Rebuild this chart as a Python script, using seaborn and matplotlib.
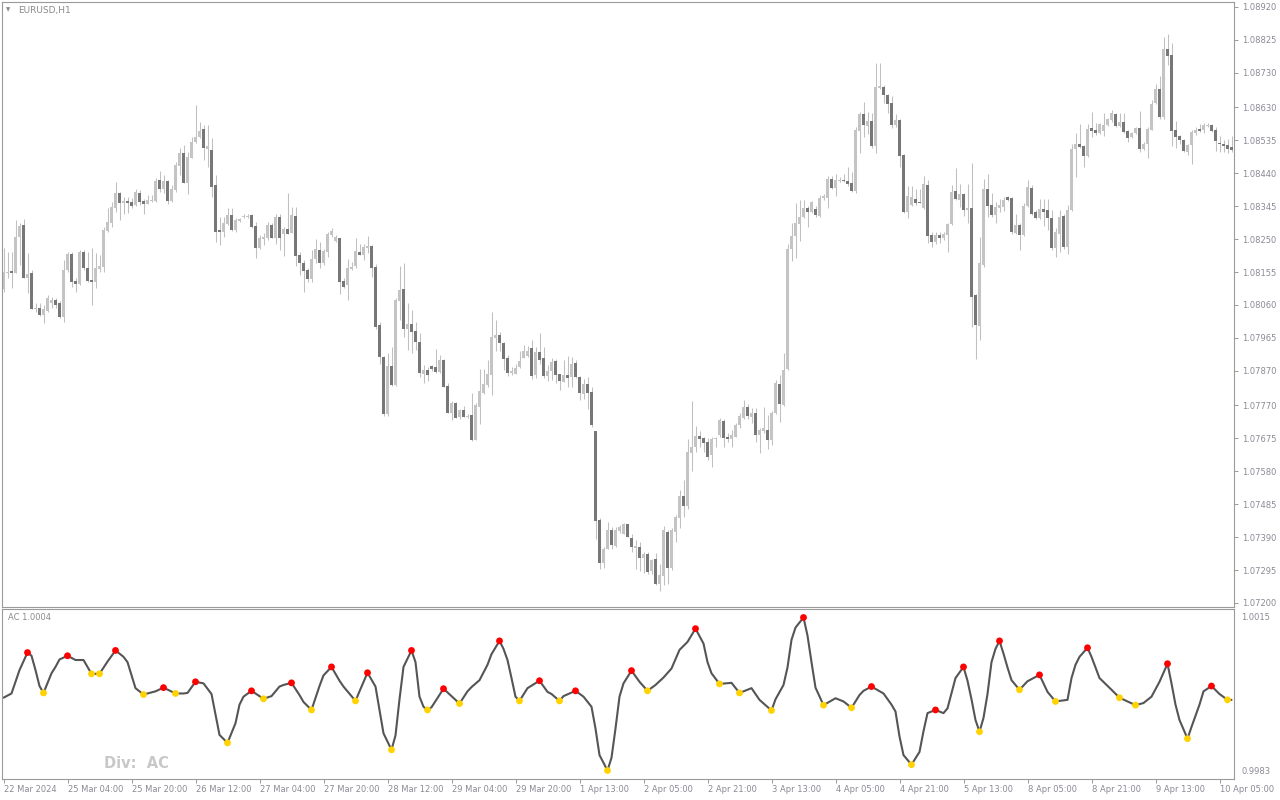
import numpy as np
import pandas as pd
import seaborn as sns
import matplotlib
matplotlib.use("Agg")
import matplotlib.pyplot as plt

sns.set_theme(style="white")
plt.rcParams['font.family'] = ['DejaVu Sans']

# ---------------- data: EURUSD H1 candles ----------------
opens = [
1.08105,1.08153,1.08158,1.08153,1.08257,1.08291,1.08139,1.08152,1.08049,1.08052,
1.08031,1.08043,1.08065,1.08075,1.08066,1.08026,1.08161,1.08207,1.08129,1.08121,
1.08214,1.08167,1.08132,1.08127,1.08165,1.08171,1.08274,1.08298,1.08339,1.08383,
1.08355,1.08360,1.08358,1.08349,1.08384,1.08361,1.08352,1.08361,1.08360,1.08421,
1.08395,1.08418,1.08360,1.08392,1.08462,1.08498,1.08413,1.08485,1.08529,1.08544,
1.08568,1.08510,1.08507,1.08406,1.08276,1.08272,1.08294,1.08320,1.08276,1.08302,
1.08314,1.08315,1.08320,1.08288,1.08225,1.08250,1.08252,1.08291,1.08252,1.08314,
1.08266,1.08279,1.08268,1.08318,1.08204,1.08182,1.08161,1.08134,1.08194,1.08220,
1.08182,1.08214,1.08262,1.08245,1.08252,1.08129,1.08117,1.08164,1.08172,1.08213,
1.08204,1.08225,1.08230,1.08169,1.08001,1.07911,1.07745,1.07885,1.07829,1.08072,
1.08106,1.07990,1.08005,1.07985,1.07954,1.07861,1.07872,1.07884,1.07881,1.07867,
1.07901,1.07826,1.07749,1.07777,1.07736,1.07757,1.07737,1.07742,1.07670,1.07766,
1.07807,1.07829,1.07858,1.07966,1.07973,1.07949,1.07908,1.07864,1.07862,1.07882,
1.07908,1.07913,1.07937,1.07859,1.07925,1.07908,1.07856,1.07870,1.07898,1.07860,
1.07839,1.07859,1.07853,1.07893,1.07853,1.07803,1.07832,1.07809,1.07696,1.07439,
1.07316,1.07356,1.07410,1.07364,1.07408,1.07400,1.07427,1.07388,1.07360,1.07362,
1.07330,1.07342,1.07292,1.07326,1.07254,1.07278,1.07405,1.07301,1.07405,1.07444,
1.07508,1.07479,1.07633,1.07651,1.07681,1.07676,1.07664,1.07627,1.07672,1.07685,
1.07725,1.07680,1.07674,1.07680,1.07715,1.07734,1.07767,1.07737,1.07749,1.07685,
1.07695,1.07700,1.07670,1.07749,1.07832,1.07772,1.07876,1.08221,1.08260,1.08295,
1.08313,1.08340,1.08327,1.08338,1.08318,1.08369,1.08369,1.08424,1.08399,1.08419,
1.08421,1.08417,1.08412,1.08389,1.08563,1.08610,1.08576,1.08591,1.08518,1.08687,
1.08689,1.08665,1.08642,1.08578,1.08595,1.08493,1.08327,1.08349,1.08366,1.08357,
1.08341,1.08406,1.08261,1.08242,1.08261,1.08254,1.08261,1.08295,1.08390,1.08364,
1.08380,1.08334,1.08341,1.08088,1.07999,1.08175,1.08394,1.08348,1.08319,1.08340,
1.08343,1.08372,1.08369,1.08268,1.08290,1.08261,1.08345,1.08398,1.08329,1.08312,
1.08338,1.08334,1.08312,1.08225,1.08266,1.08316,1.08228,1.08334,1.08509,1.08524,
1.08518,1.08489,1.08571,1.08564,1.08557,1.08562,1.08579,1.08595,1.08611,1.08577,
1.08587,1.08562,1.08545,1.08557,1.08570,1.08511,1.08524,1.08566,1.08643,1.08683,
1.08603,1.08798,1.08781,1.08564,1.08547,1.08536,1.08502,1.08521,1.08555,1.08567,
1.08566,1.08577,1.08579,1.08564,1.08528,1.08526,1.08523,1.08516]

highs = [
1.08224,1.08214,1.08214,1.08305,1.08296,1.08308,1.08209,1.08161,1.08065,1.08065,
1.08060,1.08089,1.08084,1.08079,1.08072,1.08190,1.08214,1.08214,1.08137,1.08219,
1.08219,1.08214,1.08224,1.08209,1.08204,1.08286,1.08339,1.08358,1.08414,1.08387,
1.08373,1.08373,1.08368,1.08394,1.08392,1.08366,1.08377,1.08377,1.08426,1.08447,
1.08435,1.08421,1.08406,1.08474,1.08512,1.08522,1.08502,1.08546,1.08637,1.08589,
1.08579,1.08579,1.08543,1.08435,1.08315,1.08315,1.08339,1.08339,1.08310,1.08312,
1.08324,1.08324,1.08322,1.08300,1.08262,1.08267,1.08299,1.08296,1.08324,1.08324,
1.08286,1.08382,1.08344,1.08344,1.08214,1.08190,1.08166,1.08218,1.08249,1.08242,
1.08223,1.08271,1.08281,1.08262,1.08252,1.08139,1.08192,1.08185,1.08252,1.08236,
1.08236,1.08259,1.08233,1.08177,1.08012,1.07913,1.07920,1.07939,1.08079,1.08172,
1.08180,1.08065,1.08045,1.08010,1.07978,1.07886,1.07882,1.07886,1.07932,1.07915,
1.07903,1.07834,1.07784,1.07781,1.07761,1.07768,1.07744,1.07807,1.07778,1.07876,
1.07876,1.07901,1.08040,1.08018,1.07982,1.07954,1.07917,1.07882,1.07889,1.07928,
1.07944,1.07941,1.07959,1.07939,1.07980,1.07939,1.07887,1.07907,1.07903,1.07862,
1.07901,1.07912,1.07911,1.07901,1.07855,1.07847,1.07853,1.07824,1.07696,1.07446,
1.07362,1.07434,1.07420,1.07420,1.07425,1.07431,1.07429,1.07399,1.07381,1.07375,
1.07348,1.07348,1.07328,1.07343,1.07312,1.07423,1.07410,1.07415,1.07453,1.07526,
1.07554,1.07672,1.07782,1.07710,1.07697,1.07679,1.07675,1.07678,1.07679,1.07734,
1.07731,1.07690,1.07700,1.07720,1.07749,1.07787,1.07774,1.07764,1.07764,1.07705,
1.07767,1.07742,1.07754,1.07844,1.07858,1.07920,1.08235,1.08297,1.08354,1.08364,
1.08364,1.08345,1.08359,1.08345,1.08376,1.08379,1.08432,1.08432,1.08439,1.08429,
1.08439,1.08459,1.08444,1.08573,1.08617,1.08647,1.08617,1.08614,1.08759,1.08759,
1.08694,1.08670,1.08662,1.08612,1.08598,1.08496,1.08404,1.08404,1.08394,1.08394,
1.08432,1.08422,1.08271,1.08271,1.08271,1.08271,1.08297,1.08406,1.08454,1.08410,
1.08384,1.08409,1.08471,1.08093,1.08257,1.08425,1.08437,1.08382,1.08358,1.08367,
1.08372,1.08375,1.08372,1.08322,1.08297,1.08355,1.08422,1.08406,1.08334,1.08367,
1.08367,1.08367,1.08335,1.08281,1.08334,1.08324,1.08348,1.08526,1.08555,1.08582,
1.08521,1.08582,1.08617,1.08584,1.08584,1.08614,1.08600,1.08624,1.08614,1.08613,
1.08613,1.08566,1.08560,1.08574,1.08620,1.08531,1.08574,1.08651,1.08697,1.08720,
1.08832,1.08841,1.08815,1.08591,1.08550,1.08540,1.08526,1.08564,1.08574,1.08582,
1.08584,1.08584,1.08581,1.08574,1.08547,1.08536,1.08540,1.08547]

lows = [
1.08098,1.08137,1.08108,1.08151,1.08175,1.08137,1.08094,1.08047,1.08041,1.08029,
1.08007,1.08041,1.08050,1.08050,1.08022,1.08012,1.08156,1.08113,1.08098,1.08118,
1.08161,1.08127,1.08060,1.08108,1.08156,1.08156,1.08272,1.08286,1.08329,1.08305,
1.08322,1.08325,1.08339,1.08347,1.08349,1.08322,1.08350,1.08358,1.08356,1.08387,
1.08382,1.08350,1.08358,1.08387,1.08435,1.08411,1.08379,1.08483,1.08527,1.08541,
1.08478,1.08459,1.08373,1.08243,1.08233,1.08257,1.08291,1.08274,1.08272,1.08300,
1.08310,1.08310,1.08283,1.08195,1.08223,1.08233,1.08248,1.08252,1.08235,1.08219,
1.08202,1.08264,1.08267,1.08173,1.08147,1.08098,1.08127,1.08127,1.08180,1.08166,
1.08175,1.08199,1.08257,1.08242,1.08093,1.08108,1.08074,1.08161,1.08166,1.08203,
1.08191,1.08211,1.08142,1.07992,1.07891,1.07739,1.07741,1.07827,1.07826,1.08016,
1.07968,1.07930,1.07920,1.07930,1.07851,1.07836,1.07841,1.07870,1.07864,1.07864,
1.07822,1.07747,1.07728,1.07733,1.07732,1.07736,1.07735,1.07668,1.07670,1.07716,
1.07803,1.07822,1.07800,1.07928,1.07928,1.07872,1.07855,1.07858,1.07861,1.07877,
1.07906,1.07911,1.07846,1.07848,1.07891,1.07848,1.07841,1.07843,1.07834,1.07814,
1.07837,1.07822,1.07822,1.07848,1.07786,1.07790,1.07759,1.07707,1.07386,1.07298,
1.07300,1.07355,1.07357,1.07362,1.07402,1.07398,1.07389,1.07347,1.07299,1.07293,
1.07287,1.07285,1.07283,1.07251,1.07235,1.07251,1.07254,1.07295,1.07376,1.07415,
1.07447,1.07471,1.07581,1.07636,1.07651,1.07636,1.07614,1.07593,1.07651,1.07680,
1.07650,1.07665,1.07650,1.07678,1.07705,1.07730,1.07730,1.07720,1.07665,1.07632,
1.07690,1.07645,1.07655,1.07744,1.07722,1.07769,1.07873,1.08186,1.08196,1.08245,
1.08310,1.08285,1.08325,1.08315,1.08315,1.08364,1.08340,1.08394,1.08374,1.08414,
1.08414,1.08404,1.08386,1.08384,1.08498,1.08545,1.08553,1.08513,1.08498,1.08682,
1.08642,1.08614,1.08571,1.08573,1.08459,1.08325,1.08310,1.08345,1.08349,1.08353,
1.08338,1.08239,1.08226,1.08237,1.08239,1.08247,1.08213,1.08290,1.08362,1.08343,
1.08317,1.08297,1.07997,1.07903,1.07958,1.08170,1.08314,1.08314,1.08297,1.08329,
1.08332,1.08360,1.08264,1.08266,1.08218,1.08258,1.08343,1.08319,1.08307,1.08309,
1.08287,1.08276,1.08218,1.08199,1.08213,1.08223,1.08208,1.08332,1.08430,1.08514,
1.08457,1.08487,1.08545,1.08550,1.08553,1.08547,1.08576,1.08588,1.08574,1.08574,
1.08557,1.08531,1.08543,1.08553,1.08502,1.08507,1.08483,1.08564,1.08641,1.08598,
1.08598,1.08752,1.08518,1.08512,1.08526,1.08502,1.08492,1.08468,1.08550,1.08560,
1.08557,1.08574,1.08560,1.08505,1.08502,1.08502,1.08499,1.08502]

closes = [
1.08156,1.08155,1.08153,1.08257,1.08289,1.08139,1.08149,1.08049,1.08052,1.08031,
1.08048,1.08079,1.08075,1.08060,1.08026,1.08161,1.08208,1.08127,1.08121,1.08214,
1.08166,1.08129,1.08127,1.08167,1.08173,1.08276,1.08300,1.08344,1.08383,1.08355,
1.08360,1.08355,1.08346,1.08386,1.08358,1.08352,1.08363,1.08363,1.08419,1.08395,
1.08418,1.08360,1.08395,1.08464,1.08498,1.08413,1.08487,1.08530,1.08546,1.08563,
1.08512,1.08519,1.08401,1.08272,1.08272,1.08298,1.08320,1.08276,1.08305,1.08308,
1.08316,1.08318,1.08286,1.08225,1.08252,1.08256,1.08291,1.08254,1.08314,1.08252,
1.08279,1.08266,1.08320,1.08200,1.08180,1.08159,1.08135,1.08194,1.08223,1.08182,
1.08216,1.08265,1.08273,1.08257,1.08127,1.08113,1.08166,1.08170,1.08216,1.08204,
1.08226,1.08230,1.08167,1.07997,1.07911,1.07745,1.07885,1.07829,1.08074,1.08103,
1.07990,1.08005,1.07983,1.07954,1.07864,1.07872,1.07859,1.07875,1.07867,1.07901,
1.07824,1.07749,1.07778,1.07735,1.07757,1.07737,1.07741,1.07670,1.07771,1.07812,
1.07832,1.07861,1.07968,1.07973,1.07949,1.07904,1.07864,1.07870,1.07879,1.07899,
1.07928,1.07928,1.07856,1.07925,1.07901,1.07856,1.07870,1.07896,1.07858,1.07841,
1.07859,1.07850,1.07889,1.07851,1.07805,1.07832,1.07807,1.07714,1.07437,1.07316,
1.07356,1.07410,1.07367,1.07410,1.07420,1.07427,1.07391,1.07362,1.07365,1.07330,
1.07342,1.07288,1.07324,1.07254,1.07280,1.07410,1.07301,1.07410,1.07447,1.07508,
1.07479,1.07635,1.07651,1.07681,1.07674,1.07662,1.07622,1.07673,1.07677,1.07727,
1.07677,1.07674,1.07685,1.07715,1.07739,1.07767,1.07739,1.07747,1.07685,1.07700,
1.07705,1.07670,1.07749,1.07834,1.07774,1.07873,1.08222,1.08260,1.08297,1.08315,
1.08340,1.08327,1.08356,1.08320,1.08369,1.08374,1.08424,1.08399,1.08421,1.08421,
1.08417,1.08409,1.08389,1.08565,1.08610,1.08578,1.08591,1.08518,1.08689,1.08692,
1.08667,1.08639,1.08578,1.08595,1.08491,1.08327,1.08374,1.08372,1.08354,1.08355,
1.08409,1.08259,1.08242,1.08261,1.08254,1.08264,1.08295,1.08385,1.08367,1.08380,
1.08334,1.08341,1.08083,1.08002,1.08180,1.08394,1.08346,1.08319,1.08343,1.08348,
1.08362,1.08362,1.08271,1.08290,1.08261,1.08345,1.08401,1.08322,1.08311,1.08336,
1.08329,1.08311,1.08225,1.08270,1.08314,1.08228,1.08334,1.08510,1.08524,1.08516,
1.08489,1.08569,1.08562,1.08557,1.08582,1.08579,1.08598,1.08614,1.08577,1.08587,
1.08560,1.08543,1.08557,1.08570,1.08511,1.08524,1.08567,1.08641,1.08683,1.08603,
1.08798,1.08779,1.08562,1.08545,1.08536,1.08505,1.08521,1.08560,1.08566,1.08562,
1.08579,1.08579,1.08562,1.08534,1.08524,1.08518,1.08511,1.08507]

price_ticks = [1.08920, 1.08825, 1.08730, 1.08630, 1.08535, 1.08440, 1.08345,
               1.08250, 1.08155, 1.08060, 1.07965, 1.07870, 1.07770, 1.07675,
               1.07580, 1.07485, 1.07390, 1.07295, 1.07200]

date_tick_bars = [0, 16, 32, 48, 64, 80, 96, 112, 128, 144, 160, 176, 192,
                  208, 224, 240, 256, 272, 288, 304]
date_labels = ["22 Mar 2024", "25 Mar 04:00", "25 Mar 20:00", "26 Mar 12:00",
               "27 Mar 04:00", "27 Mar 20:00", "28 Mar 12:00", "29 Mar 04:00",
               "29 Mar 20:00", "1 Apr 13:00", "2 Apr 05:00", "2 Apr 21:00",
               "3 Apr 13:00", "4 Apr 05:00", "4 Apr 21:00", "5 Apr 13:00",
               "8 Apr 05:00", "8 Apr 21:00", "9 Apr 13:00", "10 Apr 05:00"]

# ---------------- data: AC oscillator ----------------
osc_bars = [0,2,4,6,7,8,9,10,12,13,14,16,18,20,22,24,26,28,30,31,33,35,37,38,40,
            43,45,46,48,50,52,54,56,58,59,60,62,65,67,69,70,72,74,75,77,79,80,82,
            84,85,88,89,91,93,94,95,97,98,99,100,102,103,104,105,106,107,110,114,
            116,117,119,121,122,124,125,126,127,128,129,131,134,136,137,139,140,
            143,145,147,148,149,151,152,153,154,155,157,159,161,163,165,167,169,
            171,173,175,176,177,179,182,184,187,189,192,193,195,196,197,198,200,
            201,202,203,205,208,210,212,214,215,217,220,222,223,224,225,227,229,
            230,231,233,235,236,238,240,241,242,243,244,245,246,247,248,249,250,
            251,252,254,256,257,259,261,263,266,267,268,269,271,272,273,274,277,
            279,281,283,285,287,289,290,291,292,293,294,296,297,299,300,302,304,
            306,307]
osc_vals = [0.99983,0.99991,1.00035,1.00068,1.00062,1.00035,1.00005,0.99992,1.00029,
            1.00041,1.00055,1.00062,1.00054,1.00054,1.00028,1.00028,1.00051,1.00072,
            1.00060,1.00050,1.00001,0.99989,0.99993,0.99995,1.00002,0.99991,0.99991,
            0.99992,1.00013,1.00010,0.99990,0.99913,0.99898,0.99935,0.99970,0.99985,
            0.99996,0.99981,0.99986,1.00004,1.00007,1.00011,0.99988,0.99975,0.99960,
            1.00005,1.00025,1.00041,1.00015,1.00004,0.99977,0.99995,1.00030,1.00004,
            0.99960,0.99916,0.99885,0.99912,0.99980,1.00041,1.00072,1.00050,0.99985,
            0.99966,0.99960,0.99965,1.00000,0.99972,0.99995,1.00003,1.00016,1.00045,
            1.00065,1.00090,1.00075,1.00054,1.00020,0.99985,0.99977,1.00001,1.00015,
            0.99994,0.99990,0.99977,0.99986,0.99996,0.99985,0.99966,0.99925,0.99875,
            0.99846,0.99870,0.99925,0.99985,1.00010,1.00034,1.00013,0.99996,1.00007,
            1.00021,1.00038,1.00073,1.00088,1.00113,1.00085,1.00050,1.00029,1.00009,
            1.00011,0.99992,1.00001,0.99979,0.99959,0.99980,1.00007,1.00040,1.00092,
            1.00115,1.00134,1.00100,1.00050,1.00002,0.99969,0.99982,0.99976,0.99964,
            0.99988,0.99996,1.00004,0.99991,0.99970,0.99957,0.99910,0.99875,0.99857,
            0.99881,0.99920,0.99954,0.99960,0.99954,0.99963,1.00020,1.00041,1.00015,
            0.99980,0.99941,0.99919,0.99945,0.99990,1.00050,1.00075,1.00090,1.00066,
            1.00040,1.00016,0.99998,1.00014,1.00018,1.00026,0.99994,0.99976,0.99979,
            1.00020,1.00045,1.00060,1.00077,1.00060,1.00040,1.00020,0.99998,0.99983,
            0.99976,0.99969,0.99973,0.99985,1.00013,1.00030,1.00047,1.00010,0.99970,
            0.99941,0.99906,0.99928,0.99970,0.99995,1.00005,0.99990,0.99979,0.99979]
red_bars = [6, 16, 28, 40, 48, 62, 72, 82, 91, 102, 110, 124, 134, 143, 157, 173,
            200, 217, 233, 240, 249, 259, 271, 291, 302]
yellow_bars = [10, 22, 24, 35, 43, 56, 65, 77, 88, 97, 106, 114, 129, 139, 151, 161,
               179, 184, 192, 205, 212, 227, 244, 254, 263, 279, 283, 296, 306]
osc_scale_labels = ["1.0015", "0.9983"]

# ---------------- figure ----------------
W, H = 1280, 800
fig = plt.figure(figsize=(12.8, 8), dpi=100)
fig.patch.set_facecolor("white")

def fx(px):
    return px / W

def fy(py):
    return 1 - py / H

ax1 = fig.add_axes([fx(2), fy(607), fx(1231.5), (607 - 2) / H])
ax2 = fig.add_axes([fx(2), fy(779), fx(1231.5), (779 - 609) / H])

spine_col = "#9a9a9a"
txt_col = "#8a8a96"
for ax in (ax1, ax2):
    ax.set_facecolor("white")
    for s in ax.spines.values():
        s.set_color(spine_col)
        s.set_linewidth(0.8)
    ax.set_xlim(-0.375, 307.5)
    ax.grid(False)

# candles
df = pd.DataFrame({"o": opens, "h": highs, "l": lows, "c": closes})
df["bar"] = np.arange(len(df))
up = df["c"] >= df["o"]
bottom = np.minimum(df["o"], df["c"])
height = np.maximum((df["c"] - df["o"]).abs(), 0.00003)

ax1.vlines(df["bar"], df["l"], df["h"], color="#c0c0c0", linewidth=0.75, zorder=1)
ax1.bar(df["bar"][up], height[up], bottom=bottom[up], width=0.75,
        color="#c4c4c4", linewidth=0, antialiased=False, zorder=2)
ax1.bar(df["bar"][~up], height[~up], bottom=bottom[~up], width=0.75,
        color="#777777", linewidth=0, antialiased=False, zorder=2)

ax1.set_ylim(1.071884, 1.089344)
ax1.yaxis.tick_right()
ax1.set_yticks(price_ticks)
ax1.set_yticklabels([f"{v:.5f}" for v in price_ticks])
ax1.tick_params(axis="y", which="both", direction="out", length=3, width=0.7,
                color=spine_col, labelsize=6, labelcolor=txt_col, pad=3,
                left=False, right=True)
ax1.set_xticks([])
ax1.set_xlabel("")
ax1.set_ylabel("")

# oscillator
osc = pd.DataFrame({"bar": osc_bars, "ac": osc_vals})
sns.lineplot(data=osc, x="bar", y="ac", ax=ax2, color="#555555", linewidth=1.5,
             zorder=2)
lookup = dict(zip(osc_bars, osc_vals))
dots = pd.DataFrame({
    "bar": red_bars + yellow_bars,
    "ac": [lookup[b] for b in red_bars] + [lookup[b] for b in yellow_bars],
    "kind": ["peak"] * len(red_bars) + ["trough"] * len(yellow_bars),
})
sns.scatterplot(data=dots, x="bar", y="ac", hue="kind",
                palette={"peak": "#ff0000", "trough": "#ffd200"},
                s=24, linewidth=0, ax=ax2, legend=False, zorder=3)

ax2.set_ylim(0.9983, 1.0015)
ax2.set_yticks([])
ax2.set_ylabel("")
ax2.set_xlabel("")
ax2.set_xticks(date_tick_bars)
ax2.set_xticklabels(date_labels)
ax2.tick_params(axis="x", which="both", direction="out", length=3, width=0.7,
                color=spine_col, labelsize=6, labelcolor=txt_col, pad=1.5,
                bottom=True, top=False)
for lab in ax2.get_xticklabels():
    lab.set_horizontalalignment("left")

# texts
fig.text(fx(6), fy(10), "\u25BC", fontsize=4, color="#8a8a8a", va="center", ha="left")
fig.text(fx(18), fy(10), "EURUSD,H1", fontsize=6.5, color="#8a8a8a", va="center", ha="left")
fig.text(fx(8), fy(618), "AC 1.0004", fontsize=6, color="#8a8a8a", va="center", ha="left")
fig.text(fx(104), fy(763), "Div:  AC", fontsize=10.5, fontweight="bold",
         color="#c8c8c8", va="center", ha="left")
fig.text(fx(1241), fy(617), osc_scale_labels[0], fontsize=6, color=txt_col,
         va="center", ha="left")
fig.text(fx(1241), fy(772), osc_scale_labels[1], fontsize=6, color=txt_col,
         va="center", ha="left")

fig.savefig("out.png", dpi=100, facecolor="white")
